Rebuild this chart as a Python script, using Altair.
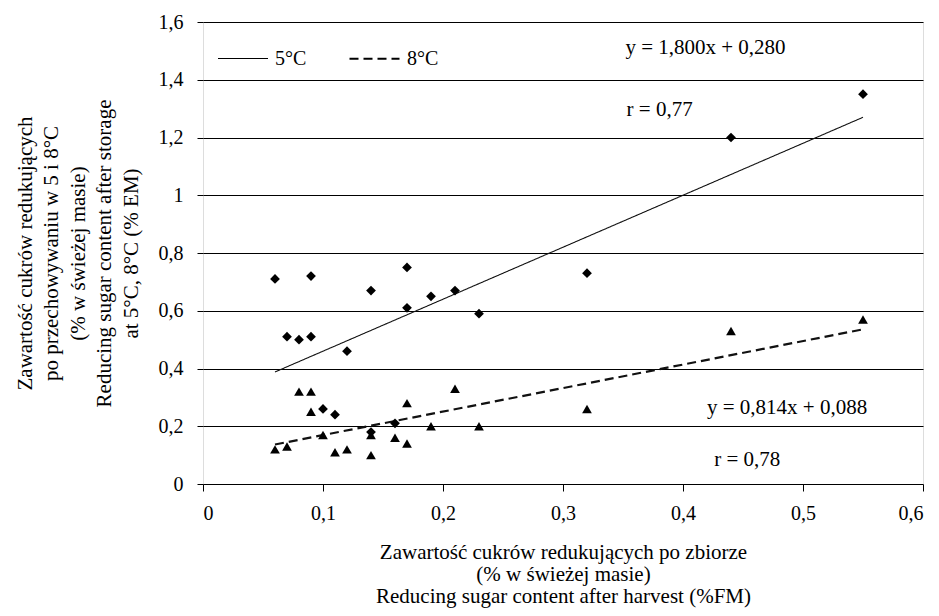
import altair as alt
import pandas as pd

# ---- data ----
series = ["5°C", "8°C"]

# diamonds (5°C)
x_5 = [0.06, 0.07, 0.08, 0.09, 0.09, 0.12, 0.14, 0.17, 0.17, 0.19, 0.21, 0.23, 0.32, 0.44, 0.55,
       0.10, 0.11, 0.14, 0.16]
y_5 = [0.71, 0.51, 0.50, 0.72, 0.51, 0.46, 0.67, 0.75, 0.61, 0.65, 0.67, 0.59, 0.73, 1.20, 1.35,
       0.26, 0.24, 0.18, 0.21]

# triangles (8°C)
x_8 = [0.06, 0.07, 0.08, 0.09, 0.09, 0.10, 0.11, 0.12, 0.14, 0.14, 0.16, 0.17, 0.17, 0.19, 0.21,
       0.23, 0.32, 0.44, 0.55]
y_8 = [0.12, 0.13, 0.32, 0.32, 0.25, 0.17, 0.11, 0.12, 0.17, 0.10, 0.16, 0.14, 0.28, 0.20, 0.33,
       0.20, 0.26, 0.53, 0.57]

# fitted lines as printed on the chart
slopes = [1.800, 0.814]
intercepts = [0.280, 0.088]
fit_x = [0.06, 0.55]

x_ticks = [0, 0.1, 0.2, 0.3, 0.4, 0.5, 0.6]
y_ticks = [0, 0.2, 0.4, 0.6, 0.8, 1.0, 1.2, 1.4, 1.6]

ann_text = ["y = 1,800x + 0,280", "r = 0,77", "y = 0,814x + 0,088", "r = 0,78"]
ann_x = [0.352, 0.353, 0.420, 0.426]
ann_y = [1.51, 1.295, 0.263, 0.083]

x_title = ["Zawartość cukrów redukujących  po zbiorze",
           "(% w świeżej masie)",
           "Reducing sugar content after harvest (%FM)"]
y_title = ["Zawartość cukrów redukujących",
           "po przechowywaniu w 5 i 8°C",
           "(% w świeżej masie)",
           "Reducing sugar content after storage",
           "at 5°C, 8°C (% EM)"]

# ---- tables ----
pts = pd.DataFrame({
    "x": x_5 + x_8,
    "y": y_5 + y_8,
    "marker": ["diamond"] * len(x_5) + ["triangle"] * len(x_8),
})

rows = []
for s, m, b in zip(series, slopes, intercepts):
    for xv in fit_x:
        rows.append({"x": xv, "y": m * xv + b, "series": s})
lines = pd.DataFrame(rows)

ann = pd.DataFrame({"x": ann_x, "y": ann_y, "t": ann_text})

FONT = "Liberation Serif"
label_expr = "replace(datum.label, '.', ',')"

xs = alt.Scale(domain=[0, 0.6], nice=False, zero=False)
ys = alt.Scale(domain=[0, 1.6], nice=False, zero=False)

x_axis = alt.Axis(values=x_ticks, format="~g", labelExpr=label_expr, grid=False,
                  tickSize=7, tickColor="black", domain=False,
                  labelFont=FONT, labelFontSize=20, labelColor="black", labelPadding=12,
                  title=x_title, titleFont=FONT, titleFontSize=21, titleFontWeight="normal",
                  titleColor="black", titleLineHeight=22, titleX=360, titleY=74,
                  titleBaseline="alphabetic", titleAlign="center")
y_axis = alt.Axis(values=y_ticks, format="~g", labelExpr=label_expr, grid=True,
                  gridColor="black", gridWidth=1.2, gridOpacity=1,
                  tickSize=6, tickColor="black", domain=False,
                  labelFont=FONT, labelFontSize=20, labelColor="black", labelPadding=14,
                  title=y_title, titleFont=FONT, titleFontSize=21, titleFontWeight="normal",
                  titleColor="black", titleLineHeight=26.5, titleAngle=270,
                  titleX=-172, titleY=231, titleBaseline="alphabetic", titleAlign="center")

points = alt.Chart(pts).mark_point(filled=True, color="black", opacity=1, size=95).encode(
    x=alt.X("x:Q", scale=xs, axis=x_axis),
    y=alt.Y("y:Q", scale=ys, axis=y_axis),
    shape=alt.Shape("marker:N",
                    scale=alt.Scale(domain=["diamond", "triangle"], range=["diamond", "triangle-up"]),
                    legend=None),
)

trend = alt.Chart(lines).mark_line(color="#111").encode(
    x=alt.X("x:Q", scale=xs),
    y=alt.Y("y:Q", scale=ys),
    strokeDash=alt.StrokeDash("series:N",
                              scale=alt.Scale(domain=series, range=[[1, 0], [9, 5]]),
                              legend=alt.Legend(title=None, orient="none", legendX=14, legendY=10,
                                                direction="horizontal", symbolType="stroke",
                                                symbolSize=2500, symbolStrokeColor="black",
                                                symbolStrokeWidth=1.5,
                                                labelFont=FONT, labelFontSize=20,
                                                labelColor="black", labelOffset=6,
                                                columnPadding=38, padding=0)),
    strokeWidth=alt.StrokeWidth("series:N",
                                scale=alt.Scale(domain=series, range=[1.1, 2.2]),
                                legend=None),
)

labels = alt.Chart(ann).mark_text(align="left", baseline="middle", font=FONT, fontSize=21,
                                  color="black").encode(
    x=alt.X("x:Q", scale=xs),
    y=alt.Y("y:Q", scale=ys),
    text="t:N",
)

chart = alt.layer(trend, points, labels).properties(
    width=720, height=462,
    autosize=alt.AutoSizeParams(type="none"),
    padding={"left": 195, "top": 14, "right": 8, "bottom": 124},
).configure_view(stroke="#444", strokeWidth=1.5).configure(background="white")

chart.save("out.html", embed_options={"renderer": "svg", "actions": False})
